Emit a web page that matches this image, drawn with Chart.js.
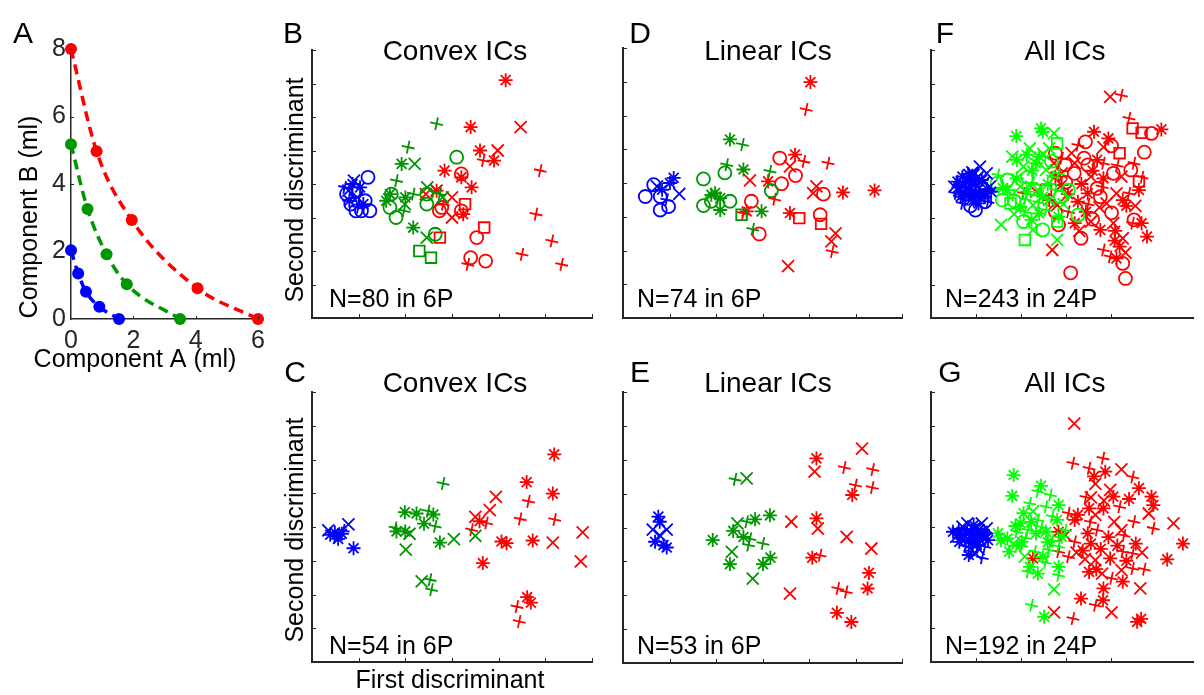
<!DOCTYPE html>
<html>
<head>
<meta charset="utf-8">
<script src="https://cdn.jsdelivr.net/npm/chart.js@4.4.0/dist/chart.umd.min.js"></script>
<style>
  body { margin: 0; background: #fff; }
  #wrap { position: relative; width: 1204px; height: 695px; overflow: hidden; }
  #wrap canvas { position: absolute; left: 0; top: 0; }
</style>
</head>
<body>
<div id="wrap">
  <canvas id="panelA" width="1204" height="695"></canvas>
  <canvas id="panelB" width="1204" height="695"></canvas>
  <canvas id="panelC" width="1204" height="695"></canvas>
  <canvas id="panelD" width="1204" height="695"></canvas>
  <canvas id="panelE" width="1204" height="695"></canvas>
  <canvas id="panelF" width="1204" height="695"></canvas>
  <canvas id="panelG" width="1204" height="695"></canvas>
</div>
<script>
const FONT = '"Liberation Sans", Arial, Helvetica, sans-serif';
const AXIS = '#262626';
const RED = 'rgb(255,0,0)';
const BLUE = 'rgb(0,0,255)';
const GREEN = 'rgb(0,150,0)';
const LIME = 'rgb(0,255,0)';

// panel A: indifference curves
const aTicksX = [0, 2, 4, 6];
const aTicksY = [0, 2, 4, 6, 8];
const aRed = [[0, 8], [0.82, 4.97], [1.95, 2.93], [4.06, 0.91], [6, 0]];
const aGreen = [[0, 5.18], [0.53, 3.26], [1.14, 1.92], [1.79, 1.03], [3.5, 0]];
const aBlue = [[0, 2.04], [0.23, 1.35], [0.48, 0.81], [0.91, 0.36], [1.54, 0]];

// panel B: convex ICs, top
const B_blueO = [[12, 42], [7.4, 37], [9.4, 38], [11.4, 35], [9.4, 32], [12.4, 32], [10.6, 32], [8.3, 34]];
const B_blueX = [[7.8, 38], [9.7, 36], [9, 41]];
const B_blueStar = [[8.7, 40], [10.3, 39], [8, 35], [11, 34]];
const B_bluePlus = [[7, 39], [9.9, 33]];
const B_greenO = [[31, 48], [17, 37], [16.7, 33], [18, 30], [24.6, 37], [24.6, 34], [26.4, 25]];
const B_greenX = [[22, 46], [24.7, 39], [19.9, 34], [24.6, 24], [28, 36]];
const B_greenStar = [[19.2, 46], [16.7, 37], [15.9, 35], [21.7, 27], [20, 36]];
const B_greenPlus = [[26.7, 58], [20.6, 51], [18.1, 41], [21.7, 37], [19.7, 32], [27.4, 37]];
const B_greenSq = [[23, 20], [25.5, 18]];
const B_redStar = [[41.5, 71], [34, 57], [36, 50], [39, 47], [28.4, 44], [32, 42], [34.2, 39], [32.4, 31], [26.7, 38]];
const B_redX = [[44.7, 57], [39.8, 50], [24.4, 37], [30, 36], [26.7, 38], [30, 30]];
const B_redO = [[32, 43], [27.3, 32], [32, 32], [35.3, 24], [34, 18], [37.2, 17], [27.8, 33]];
const B_redPlus = [[36.7, 47], [48.9, 44], [48, 31], [51.4, 23], [45, 19], [53.5, 16], [33.4, 16], [28.1, 34]];
const B_redSq = [[32.8, 34], [36.9, 27], [27.4, 24]];

// panel C: convex ICs, bottom
const C_blueStar = [[3.9, 37.7], [4.9, 38.4], [6.4, 38], [5.6, 36.5], [8.9, 33.7]];
const C_blueX = [[7.8, 40.8], [3.5, 39]];
const C_bluePlus = [[6.7, 39], [5, 37]];
const C_greenStar = [[18.1, 38.7], [19.9, 44.4], [22.4, 44], [24, 41], [26, 43.7], [27.4, 35.4], [20, 38.7]];
const C_greenX = [[20.9, 38], [20.1, 33.3], [30.4, 36.4], [35, 37.4], [23.5, 23.9]];
const C_greenPlus = [[28.1, 52.9], [24.9, 44.7], [26.4, 40.2], [17.8, 39.7], [25.3, 24.4], [25.6, 21.4]];
const C_redX = [[39.4, 48.9], [38.1, 45], [35, 43], [58, 38.4], [51.6, 35.4], [57.6, 29.8]];
const C_redStar = [[51.9, 61.5], [46, 53.3], [51.6, 49.9], [35.9, 41.7], [40.6, 35.7], [41.7, 35.2], [47.3, 36], [36.6, 29.3], [46.1, 19.2], [46.9, 17.6]];
const C_redPlus = [[46.4, 47.6], [52, 42.2], [44.6, 42.4], [34.2, 39.2], [37.4, 41.2], [43.9, 16.4], [44.4, 12]];

// panel D: linear ICs, top
const D_blueO = [[4.8, 36], [6.6, 39.5], [8, 32], [9.8, 33], [8, 36]];
const D_blueStar = [[10.9, 41.5], [10.1, 40], [8.4, 38]];
const D_blueX = [[12.1, 36.8], [7.3, 39]];
const D_bluePlus = [[9.4, 35]];
const D_greenO = [[17.3, 41.2], [21.9, 43], [17.3, 33.3], [19, 34.6], [23, 34.6], [31.9, 37.7]];
const D_greenStar = [[23, 52.9], [19.8, 37], [20.9, 35.5], [25.9, 44], [20.9, 32], [29.8, 31.6], [19, 36.5]];
const D_greenPlus = [[25.7, 51.4], [22.3, 45.4], [31.6, 43.5], [27.9, 26.3]];
const D_greenSq = [[25.5, 30.6]];
const D_redStar = [[40.3, 69.9], [37, 48.4], [31.2, 40.5], [47.3, 37.2], [54.1, 37.8], [35.9, 31.1], [26.6, 31.6]];
const D_redPlus = [[39.4, 61.8], [44.1, 45.9], [32.6, 35.2], [38.9, 46.4], [45, 19.7], [25.9, 31]];
const D_redX = [[27.3, 40.8], [35.9, 44.9], [41.6, 39], [40.9, 37], [44.8, 22.7], [45.7, 25.1], [35.5, 15.4]];
const D_redO = [[33.7, 47.4], [34.1, 39.8], [37.1, 42.2], [43.1, 36.7], [27.6, 34.6], [29.3, 24.9], [42.4, 30.6]];
const D_redSq = [[37.9, 29.6], [42.6, 27.9]];

// panel E: linear ICs, bottom
const E_blueStar = [[7.6, 43.2], [7.9, 41.7], [6.9, 35.8], [8.7, 34.8], [9.4, 34.1]];
const E_blueX = [[6.4, 39.4], [9.4, 39.4], [7.9, 37.7]];
const E_greenStar = [[19.3, 36.3], [23, 29.2], [23.7, 39], [31.6, 43.6], [30.1, 29.2], [31.7, 31.1], [28.4, 42.4], [25.9, 37.2]];
const E_greenPlus = [[24.1, 54.2], [26.6, 41.7], [27.3, 36.7], [27, 34.8], [30.1, 35.3]];
const E_greenX = [[26.6, 54.5], [24.6, 41.2], [23.4, 32.8], [27.9, 24.9]];
const E_redX = [[51.4, 63.3], [41.2, 56.5], [36.2, 41.7], [41.9, 39.7], [48.1, 37.2], [53.4, 33.8], [35.9, 20.5]];
const E_redStar = [[41.6, 60.4], [49.3, 49.6], [41.6, 42.7], [40.7, 31.1], [52.9, 26.6], [52.6, 22], [46, 14.8], [49.1, 12.1]];
const E_redPlus = [[47.6, 57.7], [53.7, 57.1], [50, 52.5], [53.6, 51.8], [42.4, 31.8], [46.2, 22], [48, 21]];

// panel F: all ICs, top
const F_blueX = [[5.2, 39.2], [6.3, 38.2], [7.4, 39.7], [8.1, 41.2], [8.8, 35.2], [9.5, 42.7], [10.2, 39.2], [10.9, 45.2], [11.6, 37.7], [12.4, 43.2], [13.1, 39.2], [8.1, 36.2], [9.9, 40.2],
  [6.9, 40.2], [9.2, 43.5], [11.8, 40.5], [10.5, 42.2], [7.5, 37.2]];
const F_blueStar = [[5.9, 40.7], [7, 42.2], [7.7, 36.7], [8.4, 38.2], [9.1, 40.2], [9.9, 37.2], [10.6, 34.2], [11.3, 41.2], [12, 36.2], [13.4, 37.7], [6.6, 36.2], [8.8, 39.2], [10.9, 37.2], [9.5, 35.2],
  [6.1, 39], [8.3, 43], [10, 41.5], [12.5, 38.5], [11, 35.8], [9.2, 36.5]];
const F_bluePlus = [[12.7, 34.7], [7, 34.2], [5.6, 37.2], [7.7, 38.7], [10.2, 36.5], [8.6, 40.8]];
const F_blueO = [[9.9, 32.2], [12, 34.7], [8.8, 33.5]];
const F_greenStar = [[19, 54.3], [24.5, 56.6], [24.9, 55.6], [24.1, 48.2], [21.3, 48.7], [19.1, 41.7], [23.4, 46.2], [17, 38.2], [21.3, 37.7], [24.9, 36.2], [19.9, 33.2], [24.1, 31.2], [22.4, 29.3], [28.4, 30.2], [19.1, 47.2],
  [26, 40], [22.5, 44], [16, 38.8]];
const F_greenX = [[27.4, 55.1], [18.1, 48.2], [22, 50.6], [20.6, 45.2], [25.6, 44.2], [19.9, 39.2], [23.8, 38.2], [26.3, 35.2], [22.7, 33.7], [15.6, 27.8], [22.7, 26.3], [28.1, 23.3], [26.3, 50.6],
  [25, 49], [29.5, 34], [18.5, 31]];
const F_greenPlus = [[14.9, 42.7], [27, 42.2], [28.4, 43.2], [18.4, 36.7], [22.4, 40.2], [27.7, 38.2], [25.6, 32.2], [20.9, 31.7], [24, 34.5], [21, 35.5]];
const F_greenO = [[17, 41.2], [14.7, 40.2], [15.9, 35.2], [28.8, 36.2], [30.6, 38.2], [20.6, 28.8], [24.9, 26.3], [32.7, 30.7], [18.5, 35], [21.5, 42], [26.8, 46.8], [23, 38.5]];
const F_greenSq = [[28.1, 52.1], [17.7, 34.2], [20.9, 23.3], [28.1, 28.8]];
const F_redX = [[39.9, 66], [38.4, 51], [31.3, 49.2], [32, 46.2], [27.4, 46.2], [42.4, 42.2], [29.1, 43.2], [35.6, 42.2], [23.4, 37.7], [41.3, 37.2], [28.1, 33.7], [39.1, 34.2], [35.6, 28.8], [40.6, 28.3], [42.7, 23.8], [27, 20.3], [43.3, 19.5],
  [37.5, 33], [45.5, 33.5], [33, 26]];
const F_redPlus = [[42.4, 66.5], [44.1, 59.6], [32.7, 51.6], [29.1, 47.7], [38.4, 46.2], [45.2, 46.2], [20.6, 37.2], [44.1, 37.2], [30.6, 31.7], [44.9, 28.3], [38.4, 20.3], [39.9, 18.3], [38.1, 39.2],
  [35, 34], [41.5, 45.5], [47, 42]];
const F_redStar = [[51.3, 56.3], [36.3, 55.6], [39.5, 53.6], [37, 47.2], [46.3, 38.2], [27.7, 42.2], [38.4, 41.7], [29.1, 39.7], [34.9, 37.2], [26.3, 35.2], [32.7, 34.7], [42.7, 35.2], [34.5, 31.7], [32, 28.3], [37.7, 26.3], [46.9, 28.3], [40.9, 23.1], [48.1, 24.3], [42, 21.3], [41.3, 17.8],
  [36, 44], [43.5, 33.5], [33.5, 40], [30.5, 37], [41, 26]];
const F_redO = [[49.1, 55.1], [34.4, 52.6], [40.2, 51.4], [27.7, 49.2], [34.1, 47.7], [34.9, 45.7], [29.9, 45.7], [40.6, 43.2], [44.5, 44.2], [31.9, 43.2], [37, 38.7], [37.7, 36.2], [27.7, 31.7], [40.2, 31.4], [28.4, 27.8], [45.2, 29.3], [33.4, 23.8], [42.7, 16.3], [31.1, 13.5], [43.3, 11.8],
  [36, 29.5], [30, 40.5], [47.5, 49.5]];
const F_redSq = [[44.9, 56.6], [46.9, 55.3], [42, 49.2], [46.3, 40.7], [25.6, 38.2]];

// panel G: all ICs, bottom
const G_blueStar = [[4.9, 38.6], [6.3, 35.6], [7.4, 37.6], [8.4, 36.1], [9.5, 40.6], [10.2, 34.7], [10.9, 36.1], [11.6, 37.6], [12.7, 36.1], [8.4, 31.7], [6.3, 38.1], [9.1, 38], [10.5, 39],
  [6.8, 36.8], [8.9, 35.2], [10.1, 36], [11.9, 37.9]];
const G_blueX = [[5.6, 37.1], [7, 40.1], [8.1, 41.1], [8.8, 38.6], [9.9, 37.1], [10.6, 39.1], [11.3, 41.1], [12.4, 39.6], [9.9, 32.2], [10.6, 33.5], [7.9, 38.2], [9.6, 39.5]];
const G_bluePlus = [[7.7, 34.2], [9.1, 32.7], [12, 34.2], [11.4, 30.9], [8, 39.5], [11, 38], [12.2, 38.5], [6, 39.3]];
const G_greenStar = [[18.4, 55.4], [18.1, 49.2], [24.5, 52.2], [28.4, 46.5], [20.6, 44.1], [28.1, 42.1], [14.9, 38.1], [17, 36.6], [20.2, 35.6], [23.4, 38.1], [25.6, 38.6], [29.1, 37.1], [17.4, 32.7], [24.9, 31.2], [22, 28.2], [23.8, 26.2], [28.4, 28.2], [25.2, 13.4], [19.9, 41.1], [15.6, 36.1],
  [22.3, 41.5], [26, 35.5], [18.8, 40.3]];
const G_greenPlus = [[23.8, 50.5], [26.6, 49.5], [22, 47], [25.6, 46], [27, 43.1], [19.1, 38.6], [21.6, 39.1], [27, 36.1], [29.9, 39.1], [19.1, 34.2], [23.1, 32.7], [26.3, 33.2], [28.4, 34.2], [21.6, 26.7], [28.4, 25.7], [22.4, 16.8], [23.8, 42.1], [20.2, 34.5],
  [24.6, 40], [21, 36.8], [25.5, 29.5]];
const G_greenX = [[22.7, 44.6], [20.9, 31.2], [27.4, 21.5], [18.4, 35.1]];
const G_redX = [[31.9, 70.6], [42.4, 57.1], [36.6, 52.8], [39.9, 51], [35.6, 48.8], [36.6, 43.6], [54, 41.1], [42.4, 39.1], [29.9, 37.6], [32.4, 32.4], [36.6, 30.2], [47, 32.4], [38.1, 26.2], [42.4, 27.2], [46.6, 21.8], [40.2, 14.7], [27.4, 14.7], [34.3, 30.5],
  [40.8, 41.5], [38.5, 47.8], [48.5, 44]];
const G_redPlus = [[31.6, 58.9], [38.3, 60.4], [35.2, 57.4], [44.9, 54.8], [42, 46], [30.6, 44.1], [45.2, 41.6], [49.5, 39.6], [37, 39.1], [32, 35.6], [28.4, 32.7], [30.6, 31.2], [42.7, 32.7], [44.9, 32.2], [40.2, 24.8], [44.9, 27.7], [36.6, 16.8], [31.6, 12.9], [34.5, 48.8],
  [43, 37.5], [35.5, 41.5], [47.5, 27.5]];
const G_redStar = [[38.8, 56.4], [36.3, 55], [46.3, 51.5], [40.6, 49], [44.1, 48.3], [49.1, 49], [49.5, 46.5], [38.4, 45.5], [35.2, 45.5], [32.7, 43.6], [32, 42.1], [28.4, 38.6], [34.9, 38.1], [35.6, 35.1], [45.6, 35.1], [56.1, 35.1], [39.9, 30.7], [52.6, 30.4], [22.7, 30.7], [35.2, 26.7], [42.7, 23.8], [38.4, 21.8], [33.4, 18.8], [38.3, 18.3], [45.9, 11.9], [46.8, 12.8], [36.8, 27.5],
  [39.5, 37], [41.5, 34.5], [37.8, 33.5], [43.5, 30], [33.8, 33]];

const MARK = {
  o: { pointStyle: 'circle', pointRadius: 6.5 },
  x: { pointStyle: 'crossRot', pointRadius: 8.5 },
  star: { pointStyle: 'star', pointRadius: 7 },
  sq: { pointStyle: 'rect', pointRadius: 7.5 },
  plus: { pointStyle: 'cross', pointRadius: 6.5, pointRotation: 12 }
};

const series = (pts, color, mark) => Object.assign({
  data: pts.map(p => ({ x: p[0], y: p[1] })),
  borderColor: color,
  backgroundColor: 'rgba(0,0,0,0)',
  pointBorderColor: color,
  pointBackgroundColor: 'rgba(0,0,0,0)',
  pointBorderWidth: 1.8,
  showLine: false,
  clip: false
}, MARK[mark]);

// draws inward ticks, tick labels and all the texts of a panel
const decor = (cfg) => ({
  id: 'decor',
  afterDraw(chart) {
    const ctx = chart.ctx;
    const area = chart.chartArea;
    const xs = chart.scales.x;
    const ys = chart.scales.y;
    ctx.save();
    ctx.strokeStyle = AXIS;
    ctx.lineWidth = cfg.tickWidth;
    xs.ticks.forEach(t => {
      if (t.value === 0 || t.value % cfg.xStep !== 0) return;
      const px = Math.round(xs.getPixelForValue(t.value)) + 0.5;
      ctx.beginPath();
      ctx.moveTo(px, area.bottom);
      ctx.lineTo(px, area.bottom - cfg.tickLen);
      ctx.stroke();
    });
    ys.ticks.forEach(t => {
      if (t.value === 0 || t.value % cfg.yStep !== 0) return;
      const py = Math.round(ys.getPixelForValue(t.value)) + 0.5;
      ctx.beginPath();
      ctx.moveTo(area.left, py);
      ctx.lineTo(area.left + cfg.tickLen, py);
      ctx.stroke();
    });
    ctx.fillStyle = AXIS;
    ctx.font = '25px ' + FONT;
    if (cfg.xLabels) {
      ctx.textAlign = 'center';
      ctx.textBaseline = 'middle';
      cfg.xLabels.forEach(v => ctx.fillText(String(v), xs.getPixelForValue(v), area.bottom + 22));
    }
    if (cfg.yLabels) {
      ctx.textAlign = 'right';
      ctx.textBaseline = 'middle';
      cfg.yLabels.forEach(v => ctx.fillText(String(v), area.left - 5, ys.getPixelForValue(v)));
    }
    ctx.fillStyle = '#000';
    cfg.texts.forEach(tx => {
      ctx.save();
      ctx.font = (tx.size || 25) + 'px ' + FONT;
      ctx.textAlign = tx.align || 'center';
      ctx.textBaseline = tx.base || 'alphabetic';
      ctx.translate(tx.x, tx.y);
      if (tx.rot) ctx.rotate(tx.rot * Math.PI / 180);
      ctx.fillText(tx.t, 0, 0);
      ctx.restore();
    });
    ctx.restore();
  }
});

function panel(id, box, xMax, yMax, xStep, yStep, datasets, cfg) {
  const axis = (max, step, isX) => ({
    type: 'linear',
    min: 0,
    max: max,
    ticks: { display: false, stepSize: step },
    grid: { display: false },
    border: { display: true, color: AXIS, width: cfg.axisWidth },
    afterFit: s => { if (isX) s.height = 0; else s.width = 0; }
  });
  cfg.xStep = xStep;
  cfg.yStep = yStep;
  return new Chart(document.getElementById(id), {
    type: 'scatter',
    data: { datasets },
    options: {
      responsive: false,
      animation: false,
      events: [],
      layout: { padding: { left: box[0], top: box[1], right: 1204 - box[2], bottom: 695 - box[3] } },
      plugins: { legend: { display: false }, tooltip: { enabled: false } },
      scales: { x: axis(xMax, xStep, true), y: axis(yMax, yStep, false) }
    },
    plugins: [decor(cfg)]
  });
}

const curve = (pts, color) => ({
  data: pts.map(p => ({ x: p[0], y: p[1] })),
  showLine: true,
  borderColor: color,
  borderWidth: 3.5,
  borderDash: [10, 6],
  cubicInterpolationMode: 'monotone',
  pointStyle: 'circle',
  pointRadius: 6,
  pointBorderWidth: 0,
  pointBackgroundColor: color,
  backgroundColor: color,
  clip: false
});

const TITLE = 28;

panel('panelA', [71, 49, 258, 319], 6, 8, 2, 2,
  [curve(aRed, RED), curve(aGreen, GREEN), curve(aBlue, BLUE)],
  { axisWidth: 1.5, tickWidth: 1, tickLen: 3, xLabels: aTicksX, yLabels: aTicksY,
    texts: [
      { t: 'A', x: 23, y: 43, size: 30 },
      { t: 'Component B (ml)', x: 30, y: 217, rot: -90, base: 'middle' },
      { t: 'Component A (ml)', x: 135, y: 367 }
    ] });

const scatterCfg = (texts) => ({ axisWidth: 2, tickWidth: 1, tickLen: 4, texts });

panel('panelB', [312, 50, 592, 318], 60, 80, 10, 10, [
  series(B_blueO, BLUE, 'o'), series(B_blueX, BLUE, 'x'), series(B_blueStar, BLUE, 'star'), series(B_bluePlus, BLUE, 'plus'),
  series(B_greenO, GREEN, 'o'), series(B_greenX, GREEN, 'x'), series(B_greenStar, GREEN, 'star'), series(B_greenPlus, GREEN, 'plus'), series(B_greenSq, GREEN, 'sq'),
  series(B_redStar, RED, 'star'), series(B_redX, RED, 'x'), series(B_redO, RED, 'o'), series(B_redPlus, RED, 'plus'), series(B_redSq, RED, 'sq')
], scatterCfg([
  { t: 'B', x: 293, y: 43, size: 30 },
  { t: 'Convex ICs', x: 455, y: 60, size: TITLE },
  { t: 'N=80 in 6P', x: 329, y: 307, align: 'left' },
  { t: 'Second discriminant', x: 296, y: 190, rot: -90, base: 'middle' }
]));

panel('panelC', [312, 392, 592, 662], 60, 80, 10, 10, [
  series(C_blueStar, BLUE, 'star'), series(C_blueX, BLUE, 'x'), series(C_bluePlus, BLUE, 'plus'),
  series(C_greenStar, GREEN, 'star'), series(C_greenX, GREEN, 'x'), series(C_greenPlus, GREEN, 'plus'),
  series(C_redX, RED, 'x'), series(C_redStar, RED, 'star'), series(C_redPlus, RED, 'plus')
], scatterCfg([
  { t: 'C', x: 295, y: 382, size: 30 },
  { t: 'Convex ICs', x: 455, y: 392, size: TITLE },
  { t: 'N=54 in 6P', x: 329, y: 654, align: 'left' },
  { t: 'Second discriminant', x: 296, y: 530, rot: -90, base: 'middle' },
  { t: 'First discriminant', x: 450, y: 681, base: 'middle' }
]));

panel('panelD', [623, 48, 902, 318], 60, 80, 10, 10, [
  series(D_blueO, BLUE, 'o'), series(D_blueStar, BLUE, 'star'), series(D_blueX, BLUE, 'x'), series(D_bluePlus, BLUE, 'plus'),
  series(D_greenO, GREEN, 'o'), series(D_greenStar, GREEN, 'star'), series(D_greenPlus, GREEN, 'plus'), series(D_greenSq, GREEN, 'sq'),
  series(D_redStar, RED, 'star'), series(D_redPlus, RED, 'plus'), series(D_redX, RED, 'x'), series(D_redO, RED, 'o'), series(D_redSq, RED, 'sq')
], scatterCfg([
  { t: 'D', x: 640, y: 43, size: 30 },
  { t: 'Linear ICs', x: 768, y: 60, size: TITLE },
  { t: 'N=74 in 6P', x: 637, y: 307, align: 'left' }
]));

panel('panelE', [623, 392, 902, 663], 60, 80, 10, 10, [
  series(E_blueStar, BLUE, 'star'), series(E_blueX, BLUE, 'x'),
  series(E_greenStar, GREEN, 'star'), series(E_greenPlus, GREEN, 'plus'), series(E_greenX, GREEN, 'x'),
  series(E_redX, RED, 'x'), series(E_redStar, RED, 'star'), series(E_redPlus, RED, 'plus')
], scatterCfg([
  { t: 'E', x: 640, y: 382, size: 30 },
  { t: 'Linear ICs', x: 768, y: 392, size: TITLE },
  { t: 'N=53 in 6P', x: 637, y: 654, align: 'left' }
]));

panel('panelF', [931, 50, 1204, 318], 58.5, 80, 10, 10, [
  series(F_blueX, BLUE, 'x'), series(F_blueStar, BLUE, 'star'), series(F_bluePlus, BLUE, 'plus'), series(F_blueO, BLUE, 'o'),
  series(F_greenStar, LIME, 'star'), series(F_greenX, LIME, 'x'), series(F_greenPlus, LIME, 'plus'), series(F_greenO, LIME, 'o'), series(F_greenSq, LIME, 'sq'),
  series(F_redX, RED, 'x'), series(F_redPlus, RED, 'plus'), series(F_redStar, RED, 'star'), series(F_redO, RED, 'o'), series(F_redSq, RED, 'sq')
], scatterCfg([
  { t: 'F', x: 945, y: 43, size: 30 },
  { t: 'All ICs', x: 1065, y: 60, size: TITLE },
  { t: 'N=243 in 24P', x: 945, y: 307, align: 'left' }
]));

panel('panelG', [931, 392, 1204, 662], 58.5, 80, 10, 10, [
  series(G_blueStar, BLUE, 'star'), series(G_blueX, BLUE, 'x'), series(G_bluePlus, BLUE, 'plus'),
  series(G_greenStar, LIME, 'star'), series(G_greenPlus, LIME, 'plus'), series(G_greenX, LIME, 'x'),
  series(G_redX, RED, 'x'), series(G_redPlus, RED, 'plus'), series(G_redStar, RED, 'star')
], scatterCfg([
  { t: 'G', x: 950, y: 382, size: 30 },
  { t: 'All ICs', x: 1065, y: 392, size: TITLE },
  { t: 'N=192 in 24P', x: 945, y: 654, align: 'left' }
]));
</script>
</body>
</html>
